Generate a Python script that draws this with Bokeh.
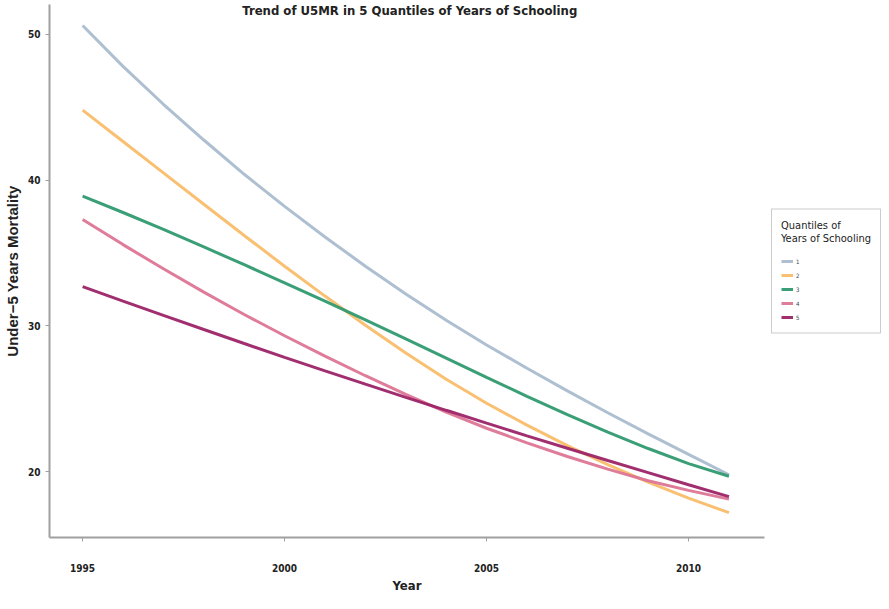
from bokeh.plotting import figure
from bokeh.models import Legend, LegendItem, Range1d, Label, FixedTicker
from bokeh.embed import file_html
from bokeh.resources import INLINE

# ---- data ----
years = list(range(1995, 2012))
q1 = [50.6, 47.8, 45.2, 42.75, 40.4, 38.2, 36.1, 34.1, 32.2, 30.4, 28.7, 27.1, 25.55, 24.05, 22.6, 21.2, 19.8]
q2 = [44.8, 42.65, 40.5, 38.35, 36.2, 34.1, 32.05, 30.05, 28.15, 26.35, 24.7, 23.2, 21.8, 20.5, 19.3, 18.2, 17.2]
q3 = [38.9, 37.78, 36.62, 35.42, 34.2, 32.96, 31.7, 30.42, 29.12, 27.8, 26.48, 25.18, 23.92, 22.72, 21.6, 20.56, 19.7]
q4 = [37.3, 35.58, 33.92, 32.32, 30.79, 29.33, 27.93, 26.59, 25.31, 24.09, 22.99, 21.99, 21.05, 20.19, 19.39, 18.73, 18.13]
q5 = [32.7, 31.71, 30.73, 29.76, 28.8, 27.85, 26.92, 26.01, 25.11, 24.22, 23.34, 22.47, 21.62, 20.78, 19.95, 19.12, 18.3]
series = [q1, q2, q3, q4, q5]
labels = ["1", "2", "3", "4", "5"]
colors = ["#a9bccd", "#f9bd6a", "#2f9a70", "#dc7595", "#9c2467"]
x_ticks = [1995, 2000, 2005, 2010]
y_ticks = [20, 30, 40, 50]
title_text = "Trend of U5MR in 5 Quantiles of Years of Schooling"

NARROW = "Liberation Sans Narrow, DejaVu Sans Condensed, sans-serif"

p = figure(frame_width=715, frame_height=533, output_backend="svg", toolbar_location=None,
           x_range=Range1d(1994.18, 2011.88), y_range=Range1d(15.5, 52.04),
           min_border_left=47, min_border_top=4, min_border_bottom=50, min_border_right=0)
p.outline_line_color = None
p.xgrid.grid_line_color = None
p.ygrid.grid_line_color = None
p.background_fill_color = "white"

items = []
for s, lab, col in zip(series, labels, colors):
    r = p.line(years, s, line_color=col, line_width=3, line_alpha=0.95)
    items.append(LegendItem(label=lab, renderers=[r]))

for ax in (p.xaxis[0], p.yaxis[0]):
    ax.axis_line_color = "#a0a0a0"
    ax.axis_line_width = 2
    ax.major_tick_line_color = "#a0a0a0"
    ax.major_tick_out = 4
    ax.major_tick_in = 0
    ax.minor_tick_line_color = None
    ax.major_label_text_font = NARROW
    ax.major_label_text_font_style = "bold"
    ax.major_label_text_font_size = "10px"
    ax.major_label_text_color = "#222222"
    ax.axis_label_text_font_style = "bold"
    ax.axis_label_text_color = "#222222"

p.xaxis.ticker = FixedTicker(ticks=x_ticks)
p.yaxis.ticker = FixedTicker(ticks=y_ticks)
p.xaxis.major_label_standoff = 22
p.yaxis.major_label_standoff = 5
p.xaxis.axis_label = "Year"
p.xaxis.axis_label_text_font = NARROW
p.xaxis.axis_label_text_font_size = "13px"
p.xaxis.axis_label_standoff = 3
p.yaxis.axis_label = "Under\u22125 Years Mortality"
p.yaxis.axis_label_text_font = "Liberation Sans"
p.yaxis.axis_label_text_font_size = "15px"
p.yaxis.axis_label_standoff = 4

title = Label(x=2003.1, y=51.6, text=title_text, text_align="center", text_baseline="middle",
              text_font=NARROW, text_font_style="bold", text_font_size="13px", text_color="#222222")
p.add_layout(title)

legend = Legend(items=items, location="center_left", margin=7)
legend.title = "Quantiles of\nYears of Schooling"
legend.title_text_font = NARROW
legend.title_text_font_size = "11px"
legend.title_text_font_style = "normal"
legend.title_text_color = "#222222"
legend.title_standoff = 10
legend.label_text_font = NARROW
legend.label_text_font_size = "6px"
legend.label_standoff = 3
legend.glyph_width = 12
legend.glyph_height = 13
legend.label_height = 13
legend.spacing = 1
legend.padding = 9
legend.border_line_color = "#999999"
legend.border_line_width = 1
legend.background_fill_color = "white"
p.add_layout(legend, "right")

open("out.html", "w").write(file_html(p, INLINE))
